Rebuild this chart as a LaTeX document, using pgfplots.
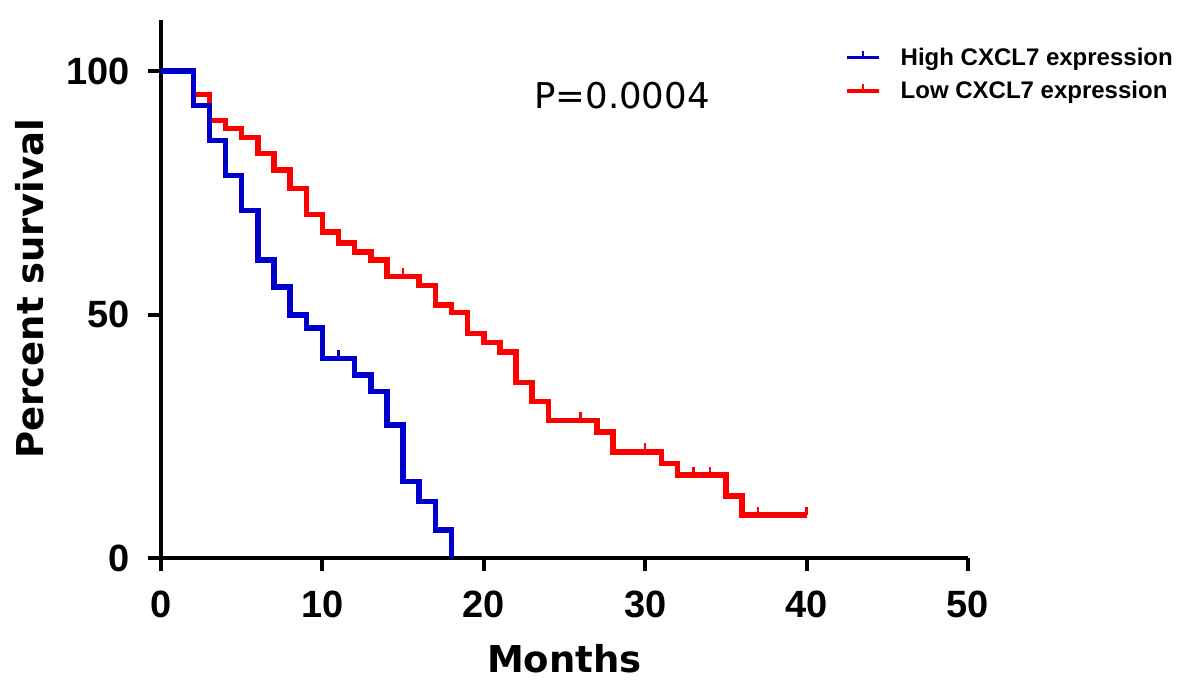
\documentclass[border=0pt]{standalone}
\usepackage{fontspec}
\setmainfont{Liberation Sans}
\newfontfamily\dejavu{DejaVu Sans}
\usepackage{pgfplots}
\pgfplotsset{compat=1.18}
\definecolor{kmblue}{RGB}{0,0,205}
\definecolor{kmred}{RGB}{255,0,0}
\pgfdeclareplotmark{cens}{\pgfpathmoveto{\pgfpointorigin}\pgfpathlineto{\pgfpoint{0pt}{\pgfplotmarksize}}\pgfusepathqstroke}
\begin{document}
\begin{tikzpicture}
\begin{axis}[
  scale only axis, width=807bp, height=538bp,
  xmin=0, xmax=50, ymin=0, ymax=110.5,
  axis x line*=bottom, axis y line*=left,
  axis line style={-, line width=4bp, black},
  xtick={0,10,20,30,40,50}, ytick={0,50,100},
  tick align=outside, major tick length=13bp,
  tick style={line width=4bp, black},
  /pgf/number format/assume math mode=true,
  ticklabel style={font=\bfseries\fontsize{38bp}{40bp}\selectfont, inner sep=0pt},
  xticklabel style={anchor=north, yshift=-20bp},
  yticklabel style={anchor=east, xshift=-18bp},
  xlabel={Months}, ylabel={Percent survival},
  label style={font=\dejavu\bfseries\fontsize{37bp}{40bp}\selectfont, inner sep=0pt},
  xlabel style={at={(axis description cs:0.5,-0.2119)}, anchor=base},
  ylabel style={at={(axis description cs:-0.145,0.5)}, anchor=base},
  clip=false,
  legend image code/.code={\draw[#1, line width=3.5bp] (0bp,0bp) -- (32bp,0bp); \draw[#1, line width=2.5bp] (16bp,0bp) -- (16bp,7bp);},
  legend style={draw=none, fill=none, at={(axis description cs:0.8476,0.948)}, anchor=north west,
    font=\bfseries\fontsize{24bp}{26bp}\selectfont, inner sep=0pt, row sep=14.5bp, column sep=20bp,
    nodes={inner sep=0pt}},
  legend cell align=left,
]
\addlegendimage{kmblue, line width=5.5bp}
\addlegendentry{High CXCL7 expression}
\addlegendimage{kmred, line width=5.5bp}
\addlegendentry{Low CXCL7 expression}

% Low CXCL7 expression
\addplot[kmred, line width=5.5bp, const plot, forget plot] coordinates {
(0,100) (2,95.2) (3,89.9) (4,88.2) (5,86.4) (6,83.1) (7,79.7) (8,75.9) (9,70.6)
(10,67.0) (11,64.7) (12,62.9) (13,61.2) (14,57.8) (16,56.0) (17,52.0) (18,50.4)
(19,46.1) (20,44.3) (21,42.3) (22,36.0) (23,32.1) (24,28.2) (27,25.9) (28,21.8)
(31,19.4) (32,17.0) (35,12.7) (36,8.8) (40,8.8)
};
\addplot[kmred, only marks, mark=cens, mark size=8.5bp, mark options={line width=2.5bp}, forget plot] coordinates {
(15,57.8) (26,28.2) (30,21.8) (33,17.0) (34,17.0) (37,8.8) (40,8.8)
};
% High CXCL7 expression
\addplot[kmblue, line width=5.5bp, const plot, forget plot] coordinates {
(0,100) (2,92.9) (3,85.7) (4,78.6) (5,71.4) (6,61.2) (7,55.7) (8,49.9) (9,47.2)
(10,41.0) (12,37.6) (13,34.2) (14,27.3) (15,15.7) (16,11.6) (17,5.7) (18,0)
};
\addplot[kmblue, only marks, mark=cens, mark size=8.5bp, mark options={line width=2.5bp}, forget plot] coordinates {
(11,41.0)
};
\node[font=\dejavu\fontsize{35.5bp}{37bp}\selectfont, anchor=base, inner sep=0pt] at (axis cs:28.56,92.35) {P=0.0004};
\end{axis}
\pgfresetboundingbox
\useasboundingbox (-161bp,-131bp) rectangle (1023bp,558bp);
\end{tikzpicture}
\end{document}
